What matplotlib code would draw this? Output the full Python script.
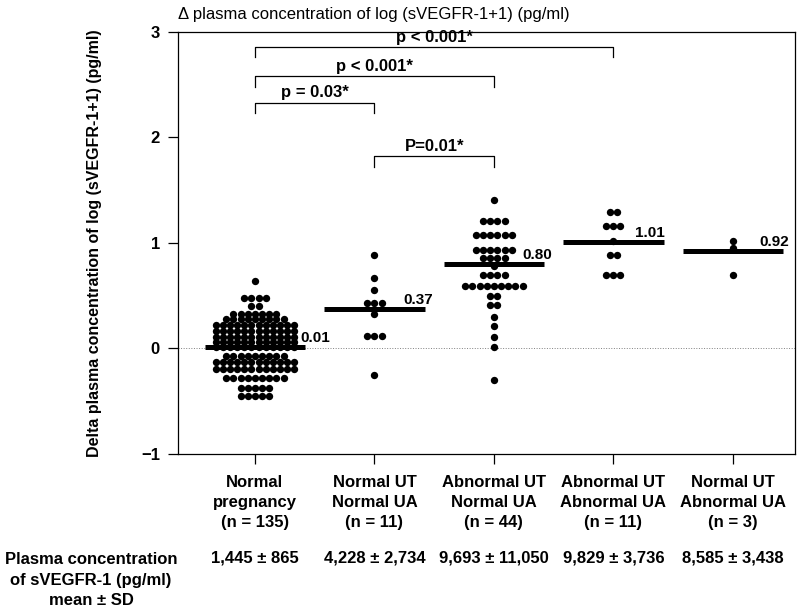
import numpy as np
import matplotlib.pyplot as plt
from matplotlib.transforms import blended_transform_factory

plt.rcParams['font.family'] = ['Liberation Sans', 'DejaVu Sans']
plt.rcParams['font.weight'] = 'bold'

# group labels, group means, sVEGFR-1 concentration row
groups = ['Normal\npregnancy\n(n = 135)', 'Normal UT\nNormal UA\n(n = 11)',
          'Abnormal UT\nNormal UA\n(n = 44)', 'Abnormal UT\nAbnormal UA\n(n = 11)',
          'Normal UT\nAbnormal UA\n(n = 3)']
means = [0.01, 0.37, 0.80, 1.01, 0.92]
conc = ['1,445 ± 865', '4,228 ± 2,734', '9,693 ± 11,050', '9,829 ± 3,736', '8,585 ± 3,438']

# dot plot rows: value and number of dots at that value
g1_vals = [0.64, 0.48, 0.40, 0.33, 0.28, 0.22, 0.17, 0.11, 0.06, 0.01,
           -0.07, -0.13, -0.19, -0.28, -0.37, -0.45]
g1_cnt = [1, 4, 2, 7, 9, 12, 12, 12, 12, 12, 9, 12, 12, 9, 5, 5]
g2_vals = [0.89, 0.67, 0.55, 0.43, 0.33, 0.12, -0.25]
g2_cnt = [1, 1, 1, 3, 1, 3, 1]
g3_vals = [1.41, 1.21, 1.08, 0.93, 0.86, 0.78, 0.70, 0.59, 0.50, 0.41,
           0.30, 0.21, 0.11, 0.01, -0.30]
g3_cnt = [1, 4, 6, 6, 4, 1, 4, 9, 2, 2, 1, 1, 1, 1, 1]
g4_vals = [1.29, 1.16, 1.02, 0.89, 0.70]
g4_cnt = [2, 3, 1, 2, 3]
g5_vals = [1.02, 0.95, 0.70]
g5_cnt = [1, 1, 1]

rows = [(g1_vals, g1_cnt), (g2_vals, g2_cnt), (g3_vals, g3_cnt),
        (g4_vals, g4_cnt), (g5_vals, g5_cnt)]

# significance brackets: from group, to group, height, text
brackets = [(1, 4, 2.86, 'p < 0.001*'), (1, 3, 2.58, 'p < 0.001*'),
            (1, 2, 2.33, 'p = 0.03*'), (2, 3, 1.82, 'P=0.01*')]

fig = plt.figure(figsize=(8, 6.1), dpi=100)
ax = fig.add_axes([0.2225, 0.2557, 0.771, 0.692])

step = 0.06
for i, (vals, cnt) in enumerate(rows):
    xs, ys = [], []
    for v, n in zip(vals, cnt):
        off = (np.arange(n) - (n - 1) / 2) * step
        xs.extend(i + 1 + off)
        ys.extend([v] * n)
    ax.scatter(xs, ys, s=28, color='black', zorder=3, linewidths=0)

# mean lines and labels
lab_dx = [0.38, 0.24, 0.235, 0.18, 0.225]
for i, m in enumerate(means):
    ax.plot([i + 1 - 0.42, i + 1 + 0.42], [m, m], color='black', lw=3.6,
            solid_capstyle='butt', zorder=4)
    ax.text(i + 1 + lab_dx[i], m + 0.02, f'{m:.2f}', fontsize=11,
            ha='left', va='bottom')

ax.axhline(0, color='gray', lw=0.7, ls=':', zorder=1)

for a, b, y, t in brackets:
    ax.plot([a, a, b, b], [y - 0.1, y, y, y - 0.1], color='black', lw=0.9)
    ax.text((a + b) / 2, y + 0.02, t, ha='center', va='bottom', fontsize=12)

ax.set_xlim(0.356, 5.519)
ax.set_ylim(-1, 3)
ax.set_yticks([-1, 0, 1, 2, 3])
ax.set_xticks(range(1, 6))
ax.set_xticklabels(groups, fontsize=12, linespacing=1.42)
ax.tick_params(axis='both', length=7, width=0.9, direction='out')
ax.tick_params(axis='x', pad=8)
ax.tick_params(axis='y', labelsize=12, pad=6)
for sp in ax.spines.values():
    sp.set_linewidth(0.9)

fig.text(178 / 800, 1 - 14 / 610, 'Δ plasma concentration of log (sVEGFR-1+1) (pg/ml)',
         ha='left', va='center', fontsize=12, fontweight='normal')
fig.text(95 / 800, 1 - 243 / 610, 'Delta plasma concentration of log (sVEGFR-1+1) (pg/ml)',
         rotation=90, ha='center', va='center', fontsize=11.5)

tr = blended_transform_factory(ax.transData, fig.transFigure)
for i, c in enumerate(conc):
    ax.text(i + 1, 1 - 558 / 610, c, transform=tr, ha='center', va='center', fontsize=12)
fig.text(91 / 800, 1 - 580 / 610, 'Plasma concentration\nof sVEGFR-1 (pg/ml)\nmean ± SD',
         ha='center', va='center', fontsize=12, linespacing=1.42)

fig.savefig('out.png', dpi=100)
